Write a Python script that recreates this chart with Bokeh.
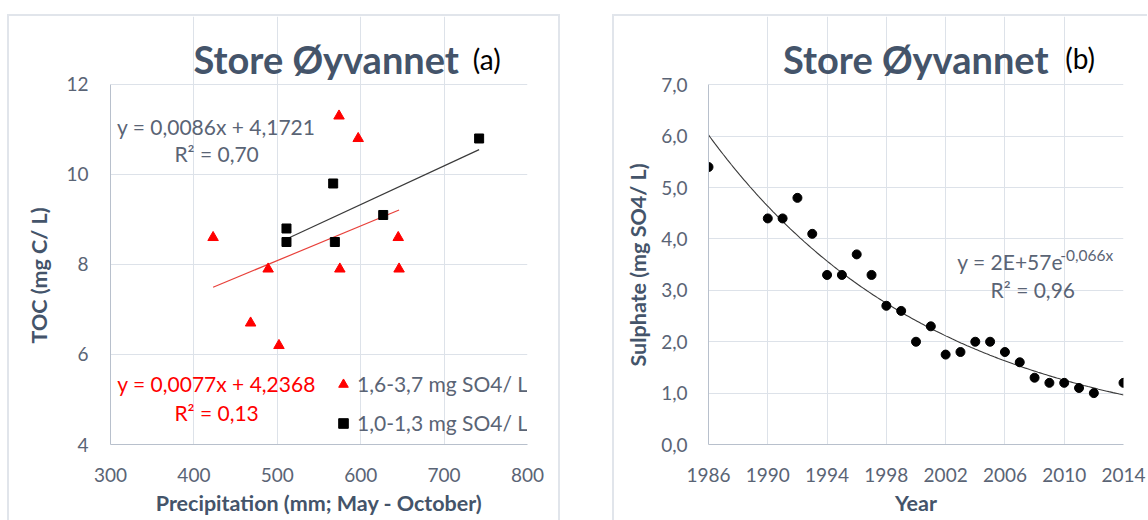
import numpy as np
from bokeh.plotting import figure
from bokeh.layouts import row, column
from bokeh.models import (Range1d, Label, Legend, LegendItem, FixedTicker,
                          CustomJSTickFormatter, Spacer, Title)
from bokeh.embed import file_html
from bokeh.resources import INLINE

# ---------------- data: panel (a) ----------------
precip_high = [423, 574, 597, 645, 489, 575, 646, 468, 502]
toc_high = [8.6, 11.3, 10.8, 8.6, 7.9, 7.9, 7.9, 6.7, 6.2]
precip_low = [511, 511, 567, 569, 627, 742]
toc_low = [8.8, 8.5, 9.8, 8.5, 9.1, 10.8]
slope_high, icpt_high = 0.0077, 4.2368
slope_low, icpt_low = 0.0086, 4.1721
label_high = "1,6-3,7 mg SO4/ L"
label_low = "1,0-1,3 mg SO4/ L"
eq_high = "y = 0,0077x + 4,2368"
r2_high = "R² = 0,13"
eq_low = "y = 0,0086x + 4,1721"
r2_low = "R² = 0,70"
x_ticks_a = [300, 400, 500, 600, 700, 800]
y_ticks_a = [4, 6, 8, 10, 12]

# ---------------- data: panel (b) ----------------
years = [1986, 1990, 1991, 1992, 1993, 1994, 1995, 1996, 1997, 1998, 1999,
         2000, 2001, 2002, 2003, 2004, 2005, 2006, 2007, 2008, 2009, 2010,
         2011, 2012, 2014]
sulphate = [5.4, 4.4, 4.4, 4.8, 4.1, 3.3, 3.3, 3.7, 3.3, 2.7, 2.6,
            2.0, 2.3, 1.75, 1.8, 2.0, 2.0, 1.8, 1.6, 1.3, 1.2, 1.2,
            1.1, 1.0, 1.2]
eq_b = "y = 2E+57e"
eq_b_sup = "-0,066x"
r2_b = "R² = 0,96"
x_ticks_b = [1986, 1990, 1994, 1998, 2002, 2006, 2010, 2014]
y_ticks_b = [0, 1, 2, 3, 4, 5, 6, 7]

TITLE = "Store Øyvannet"

FONT = "Lato"
TITLE_C = "#44546A"
TEXT_C = "#5a6475"
GRID_C = "#dde2e9"
AXIS_C = "#b8c0cc"
PANEL_C = "#e1e5eb"
ANN = "21px"


def style(p, xb, yb):
    p.outline_line_color = None
    p.background_fill_color = "white"
    p.border_fill_color = "white"
    for ax in (p.xaxis[0], p.yaxis[0]):
        ax.major_tick_in = 0
        ax.major_tick_out = 0
        ax.minor_tick_in = 0
        ax.minor_tick_out = 0
        ax.axis_line_color = AXIS_C
        ax.axis_line_width = 1
        ax.major_label_text_font = FONT
        ax.major_label_text_font_size = "19px"
        ax.major_label_text_color = TEXT_C
        ax.axis_label_text_font = FONT
        ax.axis_label_text_font_size = "21.5px"
        ax.axis_label_text_font_style = "bold"
        ax.axis_label_text_color = TITLE_C
    p.yaxis.bounds = yb
    p.xgrid.bounds = yb
    p.xaxis.major_label_standoff = 23
    p.xaxis.axis_label_standoff = 5
    p.xgrid.grid_line_color = GRID_C
    p.ygrid.grid_line_color = GRID_C


def lab(p, x, y, text, size=ANN, color=TEXT_C, align="center", baseline="middle",
        bold=False):
    p.add_layout(Label(x=x, y=y, text=text, text_font=FONT, text_font_size=size,
                       text_color=color, text_align=align, text_baseline=baseline,
                       text_font_style="bold" if bold else "normal"))


def side_title(p, text, offset, standoff):
    p.add_layout(Title(text=text, align="left", offset=offset, standoff=standoff,
                       vertical_align="bottom", text_font=FONT, text_font_size="21.5px",
                       text_font_style="bold", text_color=TITLE_C), "left")


# ---------------- panel (a) ----------------
p1 = figure(width=549, height=504, x_range=Range1d(300, 800), y_range=Range1d(4, 13.511),
            output_backend="svg", toolbar_location=None,
            min_border_left=101, min_border_right=31, min_border_top=0, min_border_bottom=76)
p1.styles = {"box-shadow": f"-2px 0 0 0 {PANEL_C}, 2px 0 0 0 {PANEL_C}, 0 -2px 0 0 {PANEL_C}, -2px -2px 0 0 {PANEL_C}, 2px -2px 0 0 {PANEL_C}"}
style(p1, (300, 800), (4, 12))
p1.yaxis.major_label_standoff = 22
p1.xaxis.ticker = FixedTicker(ticks=x_ticks_a)
p1.yaxis.ticker = FixedTicker(ticks=y_ticks_a)
p1.xgrid.ticker = FixedTicker(ticks=x_ticks_a)
p1.ygrid.ticker = FixedTicker(ticks=y_ticks_a)
p1.xaxis.axis_label = "Precipitation (mm; May - October)"
side_title(p1, "TOC (mg C/ L)", 101, 24)

xh = np.array([min(precip_high), max(precip_high)], dtype=float)
xl = np.array([min(precip_low), max(precip_low)], dtype=float)
p1.line(xh, slope_high * xh + icpt_high, line_color="#e8403a", line_width=1.2)
p1.line(xl, slope_low * xl + icpt_low, line_color="#3a3a3a", line_width=1.2)
r_tri = p1.scatter(precip_high, toc_high, marker="triangle", size=10.5,
                   fill_color="#ff0000", line_color="#ff0000")
r_sq = p1.scatter(precip_low, toc_low, marker="square", size=9,
                  fill_color="black", line_color="black")

legend = Legend(items=[LegendItem(label=label_high, renderers=[r_tri]),
                       LegendItem(label=label_low, renderers=[r_sq])],
                location=(221, 9), orientation="vertical",
                glyph_width=24, glyph_height=24, label_height=24, spacing=14,
                padding=0, margin=0, border_line_color=None, background_fill_alpha=0,
                label_standoff=2, label_text_font=FONT, label_text_font_size=ANN,
                label_text_color=TEXT_C, label_text_baseline="middle")
p1.add_layout(legend)

lab(p1, 399.5, 12.573, TITLE, size="38px", color=TITLE_C, align="left", bold=True)
lab(p1, 734.4, 12.573, "(a)", size="28px", color="black", align="left")
lab(p1, 426.8, 11.07, eq_low)
lab(p1, 427.2, 10.456, r2_low)
lab(p1, 427.2, 5.36, eq_high, color="#ff0000")
lab(p1, 427.2, 4.716, r2_high, color="#ff0000")

# ---------------- panel (b) ----------------
p2 = figure(width=533, height=504, x_range=Range1d(1986, 2014), y_range=Range1d(0, 8.33),
            output_backend="svg", toolbar_location=None,
            min_border_left=92, min_border_right=24, min_border_top=0, min_border_bottom=76)
p2.styles = {"box-shadow": f"-2px 0 0 0 {PANEL_C}, 0 -2px 0 0 {PANEL_C}, -2px -2px 0 0 {PANEL_C}"}
style(p2, (1986, 2014), (0, 7))
p2.yaxis.major_label_standoff = 21
p2.xaxis.ticker = FixedTicker(ticks=x_ticks_b)
p2.yaxis.ticker = FixedTicker(ticks=y_ticks_b)
p2.xgrid.ticker = FixedTicker(ticks=x_ticks_b)
p2.ygrid.ticker = FixedTicker(ticks=y_ticks_b)
p2.yaxis.formatter = CustomJSTickFormatter(code="return tick.toFixed(1).replace('.', ',');")
p2.xaxis.axis_label = "Year"
side_title(p2, "Sulphate (mg SO4/ L)", 78, 16)

# exponential trend (log-linear least squares, as a spreadsheet does)
coef = np.polyfit(np.array(years, dtype=float), np.log(np.array(sulphate)), 1)
xt = np.linspace(min(years), max(years), 200)
p2.line(xt, np.exp(np.polyval(coef, xt)), line_color="#3a3a3a", line_width=1.1)
p2.scatter(years, sulphate, marker="circle", size=9, fill_color="black", line_color="black")

lab(p2, 1991.03, 7.498, TITLE, size="38px", color=TITLE_C, align="left", bold=True)
lab(p2, 2010.07, 7.52, "(b)", size="28px", color="black", align="left")
lab(p2, 2002.79, 3.552, eq_b, align="left")
lab(p2, 2009.73, 3.68, eq_b_sup, size="15.5px", align="left")
lab(p2, 2007.88, 3.016, r2_b)

layout = column(Spacer(height=16), row(Spacer(width=9), p1, Spacer(width=56), p2))
open("out.html", "w").write(file_html(layout, INLINE))
